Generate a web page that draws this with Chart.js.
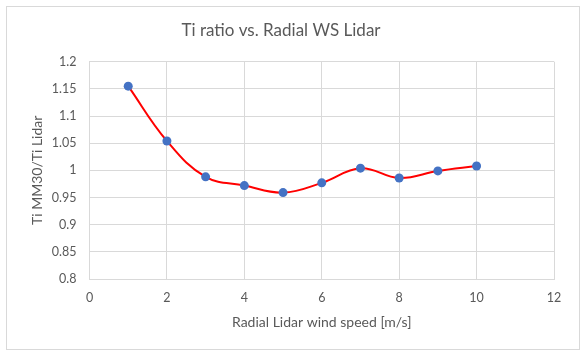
<!DOCTYPE html>
<html>
<head>
<meta charset="utf-8">
<script src="https://cdn.jsdelivr.net/npm/chart.js@4"></script>
<style>
  html, body { margin: 0; padding: 0; background: #fff; }
  #wrap { position: relative; width: 587px; height: 354px; }
  #frame { position: absolute; left: 6px; top: 6px; width: 572px; height: 342px; border: 1px solid #d9d9d9; pointer-events: none; }
</style>
</head>
<body>
<div id="wrap">
  <canvas id="chart" width="587" height="354"></canvas>
  <div id="frame"></div>
</div>
<script>
// values
var windSpeed = [1, 2, 3, 4, 5, 6, 7, 8, 9, 10];
var tiRatio = [1.155, 1.054, 0.988, 0.972, 0.959, 0.977, 1.004, 0.986, 0.999, 1.008];

var fontFamily = "Lato, 'Open Sans', sans-serif";
var textColor = "#595959";
var gridColor = "#d9d9d9";

var points = windSpeed.map(function (x, i) { return { x: x, y: tiRatio[i] }; });

var ctx = document.getElementById("chart").getContext("2d");
new Chart(ctx, {
    type: "scatter",
    data: {
        datasets: [{
            data: points,
            showLine: true,
            tension: 0.4,
            borderColor: "#ff0000",
            borderWidth: 2,
            pointRadius: 4.5,
            pointBackgroundColor: "#4472c4",
            pointBorderColor: "#4472c4",
            pointBorderWidth: 0
        }]
    },
    options: {
        responsive: false,
        animation: false,
        layout: { padding: { left: 8, right: 33, top: 0, bottom: 0 } },
        plugins: {
            legend: { display: false },
            tooltip: { enabled: false },
            title: {
                display: true,
                text: "Ti ratio vs. Radial WS Lidar",
                color: textColor,
                font: { family: fontFamily, size: 17, weight: "normal" },
                padding: { top: 20.3, bottom: 21 }
            }
        },
        scales: {
            x: {
                type: "linear",
                min: 0,
                max: 12,
                ticks: { stepSize: 2, color: textColor, padding: 11.5, font: { family: fontFamily, size: 12.5 } },
                grid: { color: gridColor, drawTicks: false },
                border: { color: gridColor },
                title: {
                    display: true,
                    text: "Radial Lidar wind speed [m/s]",
                    color: textColor,
                    font: { family: fontFamily, size: 14 },
                    padding: { top: 0, bottom: 23.6 }
                },
                afterFit: function (s) { s.height = 75; }
            },
            y: {
                min: 0.8,
                max: 1.2,
                ticks: {
                    stepSize: 0.05,
                    color: textColor,
                    padding: 13,
                    font: { family: fontFamily, size: 12.5 },
                    callback: function (v) { return parseFloat(v.toFixed(2)).toString(); }
                },
                grid: { color: gridColor, drawTicks: false },
                border: { color: gridColor },
                title: {
                    display: true,
                    text: "Ti MM30/Ti Lidar",
                    color: textColor,
                    font: { family: fontFamily, size: 14 },
                    padding: { top: 20.6, bottom: 0 }
                },
                afterFit: function (s) { s.width = 81.5; }
            }
        }
    }
});
</script>
</body>
</html>
